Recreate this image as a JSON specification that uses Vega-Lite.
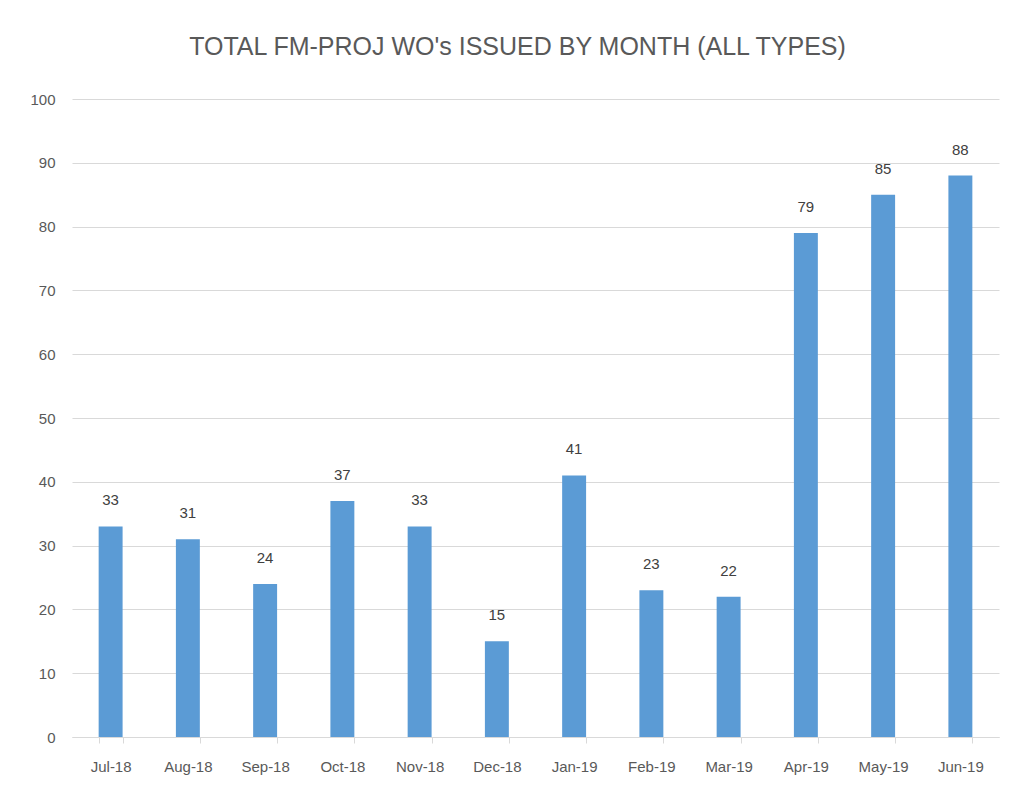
{
  "$schema": "https://vega.github.io/schema/vega-lite/v6.json",
  "autosize": "none",
  "width": 927,
  "height": 638,
  "padding": {"left": 72, "top": 99, "right": 14, "bottom": 55},
  "background": "white",
  "title": {
    "text": "TOTAL FM-PROJ WO's ISSUED BY MONTH (ALL TYPES)",
    "font": "Liberation Sans",
    "fontSize": 25,
    "fontWeight": "normal",
    "color": "#595959",
    "anchor": "middle",
    "dx": -18,
    "offset": 32
  },
  "data": {
    "values": [
      {"month": "Jul-18", "count": 33},
      {"month": "Aug-18", "count": 31},
      {"month": "Sep-18", "count": 24},
      {"month": "Oct-18", "count": 37},
      {"month": "Nov-18", "count": 33},
      {"month": "Dec-18", "count": 15},
      {"month": "Jan-19", "count": 41},
      {"month": "Feb-19", "count": 23},
      {"month": "Mar-19", "count": 22},
      {"month": "Apr-19", "count": 79},
      {"month": "May-19", "count": 85},
      {"month": "Jun-19", "count": 88}
    ]
  },
  "encoding": {
    "x": {
      "field": "month",
      "type": "nominal",
      "sort": null,
      "scale": {"paddingInner": 0.69, "paddingOuter": 0.345},
      "axis": {
        "title": null,
        "labelAngle": 0,
        "labelFont": "Liberation Sans",
        "labelFontSize": 15,
        "labelColor": "#595959",
        "labelPadding": 16,
        "domainColor": "#d9d9d9",
        "tickColor": "#d9d9d9",
        "tickSize": 6,
        "tickBand": "extent",
        "grid": false
      }
    },
    "y": {
      "field": "count",
      "type": "quantitative",
      "scale": {"domain": [0, 100], "nice": false},
      "axis": {
        "title": null,
        "values": [0, 10, 20, 30, 40, 50, 60, 70, 80, 90, 100],
        "labelFont": "Liberation Sans",
        "labelFontSize": 15,
        "labelColor": "#595959",
        "labelPadding": 17,
        "domain": false,
        "ticks": false,
        "grid": true,
        "gridColor": "#d9d9d9",
        "gridWidth": 1
      }
    }
  },
  "layer": [
    {"mark": {"type": "bar", "color": "#5B9BD5"}},
    {
      "mark": {
        "type": "text",
        "baseline": "bottom",
        "dy": -18,
        "font": "Liberation Sans",
        "fontSize": 15,
        "color": "#404040"
      },
      "encoding": {"text": {"field": "count", "type": "quantitative"}}
    }
  ],
  "config": {"view": {"stroke": null}}
}
